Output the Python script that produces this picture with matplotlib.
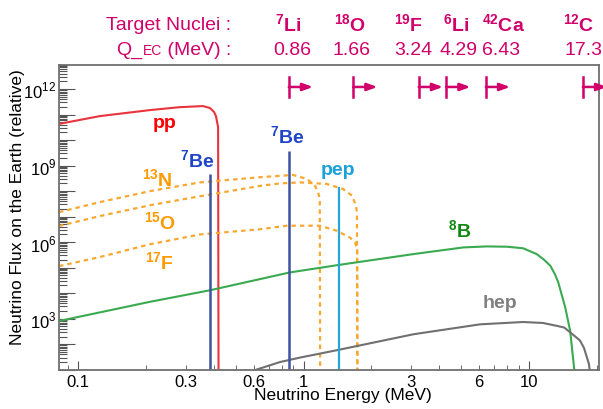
import math
import matplotlib
matplotlib.use('Agg')
import matplotlib.pyplot as plt
from matplotlib.ticker import FixedLocator, NullFormatter, FuncFormatter, LogLocator

plt.rcParams['font.family'] = ['Liberation Sans', 'DejaVu Sans']
plt.rcParams['mathtext.fontset'] = 'custom'
plt.rcParams['mathtext.rm'] = 'Liberation Sans'
plt.rcParams['mathtext.bf'] = 'Liberation Sans:bold'

# スペクトル (エネルギー MeV, フラックス)
pp_e = [0.0824, 0.125, 0.209, 0.283, 0.358, 0.385, 0.401, 0.409, 0.418, 0.42]
pp_f = [4.3e10, 8.7e10, 1.5e11, 1.95e11, 2.15e11, 1.8e11, 1.26e11, 8.7e10, 3.2e10, 1]

n13_e = [0.0824, 0.125, 0.209, 0.348, 0.641, 0.898, 1.036, 1.125, 1.16, 1.18, 1.185]
n13_f = [1.5e7, 3.7e7, 1.0e8, 2.2e8, 3.5e8, 4.3e8, 3.0e8, 1.6e8, 9.1e7, 4.9e7, 1]

o15_e = [0.0824, 0.125, 0.209, 0.348, 0.641, 0.787, 0.965, 1.267, 1.497, 1.641, 1.709, 1.725, 1.73]
o15_f = [4.3e6, 1.05e7, 2.8e7, 6.3e7, 1.6e8, 2.0e8, 2.2e8, 1.9e8, 1.2e8, 6.6e7, 2.6e7, 1.3e7, 1]

f17_e = [0.0824, 0.125, 0.209, 0.348, 0.641, 0.842, 1.18, 1.404, 1.608, 1.692, 1.73, 1.735]
f17_f = [1.15e5, 2.6e5, 8.3e5, 2.0e6, 3.2e6, 4.4e6, 4.4e6, 2.8e6, 1.5e6, 9.8e5, 5e5, 1]

b8_e = [0.0824, 0.209, 0.385, 0.87, 1.452, 3.07, 5.11, 6.49, 8.0, 9.4, 10.8, 11.6, 12.4, 13.0,
        13.45, 14.45, 15.2, 15.84, 15.9]
b8_f = [8.1e2, 4.6e3, 1.3e4, 6.5e4, 1.3e5, 3.4e5, 6.2e5, 6.8e5, 6.6e5, 5.75e5, 3.4e5, 2.1e5,
        1.2e5, 5.6e4, 2.7e4, 2.8e3, 3.3e2, 10.5, 1]

hep_e = [0.57, 0.787, 0.967, 1.43, 3.07, 6.06, 9.4, 11.5, 13.3, 14.3, 15.7, 16.8, 17.5, 18.4, 18.6]
hep_f = [8, 20, 30, 60, 2.45e2, 6.0e2, 7.4e2, 6.8e2, 5.2e2, 4.5e2, 2.3e2, 1.4e2, 71, 17, 8]

be7_e = [0.384, 0.862]
be7_top = [4.7e8, 3.8e9]
pep_e = [1.442]
pep_top = [1.45e8]

# 標的核としきい値
nuclei = [r'$^{\mathbf{7}}$Li', r'$^{\mathbf{18}}$O', r'$^{\mathbf{19}}$F',
          r'$^{\mathbf{6}}$Li', r'$^{\mathbf{42}}$Ca', r'$^{\mathbf{12}}$C']
q_ec = [0.86, 1.66, 3.24, 4.29, 6.43, 17.3]
q_labels = ['0.86', '1.66', '3.24', '4.29', '6.43', '17.3']
nuc_x = [288, 350, 409, 456, 503, 579]
val_x = [292, 351, 413, 458, 501, 583]

mag = '#d1006a'
orange = '#f7a830'

fig = plt.figure(figsize=(6.03, 4.10), dpi=100)
ax = fig.add_axes([59/603, 1-370.7/410, 540/603, 305/410])

ax.plot(pp_e, pp_f, color='#e8343c', lw=1.5)
for e, f in [(n13_e, n13_f), (o15_e, o15_f), (f17_e, f17_f)]:
    ax.plot(e, f, color=orange, lw=1.6, ls=(0, (2, 1.8)))
ax.plot(b8_e, b8_f, color='#3aaa50', lw=1.5)
ax.plot(hep_e, hep_f, color='#707070', lw=1.5)
ax.vlines(be7_e, 1, be7_top, color='#3d52a1', lw=1.8)
ax.vlines(pep_e, 1, pep_top, color='#27a4d8', lw=1.6)

ax.set_xscale('log')
ax.set_yscale('log')
ax.set_xlim(0.0824, 20.4)
ax.set_ylim(10, 9e12)

# 目盛り
ax.xaxis.set_major_locator(FixedLocator([0.1, 1, 10]))
ax.xaxis.set_major_formatter(FuncFormatter(lambda v, p: '%g' % v))
minor_x = [0.09, 0.2, 0.3, 0.4, 0.5, 0.6, 0.7, 0.8, 0.9, 2, 3, 4, 5, 6, 7, 8, 9, 20]
ax.xaxis.set_minor_locator(FixedLocator(minor_x))
ax.xaxis.set_minor_formatter(FuncFormatter(lambda v, p: ('%g' % v) if round(v, 3) in (0.3, 0.6, 3, 6) else ''))
ax.yaxis.set_major_locator(LogLocator(base=10, numticks=30))
ax.yaxis.set_major_formatter(FuncFormatter(
    lambda v, p: r'$10^{%d}$' % round(math.log10(v)) if round(math.log10(v)) % 3 == 0 else ''))
ax.yaxis.set_minor_locator(LogLocator(base=10, subs=range(2, 10), numticks=30))
ax.yaxis.set_minor_formatter(NullFormatter())

ax.tick_params(which='both', direction='in', color='#555555', labelsize=12)
ax.tick_params(axis='x', which='major', length=6.5, pad=3)
ax.tick_params(axis='x', which='minor', length=3.6, pad=3)
ax.tick_params(axis='y', which='major', length=11.5, pad=2)
ax.tick_params(axis='y', which='minor', length=6, width=0.8)
for s in ax.spines.values():
    s.set_color('#707070')
    s.set_linewidth(1.3)

ax.set_xlabel('Neutrino Energy (MeV)', fontsize=12.5)
ax.xaxis.set_label_coords(0.526, -0.058)
ax.set_ylabel('Neutrino Flux on the Earth (relative)', fontsize=12.5)
ax.yaxis.set_label_coords(-0.063, 0.537)

# ラベル
lab = dict(transform=ax.transAxes, ha='center', va='baseline', fontsize=14, fontweight='bold')
ax.text(0.196, 0.796, 'pp', color='#ff0000', **lab)
ax.text(0.256, 0.664, r'$^{\mathbf{7}}$Be', color='#1f44c8', **lab)
ax.text(0.422, 0.743, r'$^{\mathbf{7}}$Be', color='#1f44c8', **lab)
ax.text(0.517, 0.642, 'pep', color='#1ba1d9', **lab)
ax.text(0.183, 0.602, r'$^{\mathbf{13}}$N', color='#ff9a00', **lab)
ax.text(0.187, 0.461, r'$^{\mathbf{15}}$O', color='#ff9a00', **lab)
ax.text(0.187, 0.330, r'$^{\mathbf{17}}$F', color='#ff9a00', **lab)
ax.text(0.743, 0.435, r'$^{\mathbf{8}}$B', color='#118811', **lab)
ax.text(0.817, 0.206, 'hep', color='#808080', **lab)

# しきい値の矢印
tr = ax.get_xaxis_transform()
for q in q_ec:
    ax.plot([q, q], [0.894, 0.960], color=mag, lw=1.8, transform=tr, clip_on=False)
    ax.annotate('', xy=(q * 1.28, 0.927), xytext=(q, 0.927), xycoords=tr, textcoords=tr,
                arrowprops=dict(arrowstyle='-|>,head_length=0.6,head_width=0.22', color=mag,
                                lw=1.8, shrinkA=0, shrinkB=0, mutation_scale=10),
                annotation_clip=False)

# 上部の表
fig.text(231/603, 1-30/410, 'Target Nuclei :', color=mag, fontsize=14, ha='right', va='baseline')
r = fig.canvas.get_renderer()
t3 = fig.text(231/603, 1-55/410, ' (MeV) :', color=mag, fontsize=14, ha='right', va='baseline')
x0 = t3.get_window_extent(r).x0 / fig.bbox.width
t2 = fig.text(x0, 1-55/410, 'EC', color=mag, fontsize=10, ha='right', va='baseline')
x0 = t2.get_window_extent(r).x0 / fig.bbox.width
fig.text(x0, 1-55/410, 'Q_', color=mag, fontsize=14, ha='right', va='baseline')
for name, x in zip(nuclei, nuc_x):
    fig.text(x/603, 1-32/410, name, color=mag, fontsize=14, fontweight='bold', ha='center', va='baseline')
for v, x in zip(q_labels, val_x):
    fig.text(x/603, 1-55/410, v, color=mag, fontsize=14, ha='center', va='baseline')

fig.savefig('out.png', dpi=100)
